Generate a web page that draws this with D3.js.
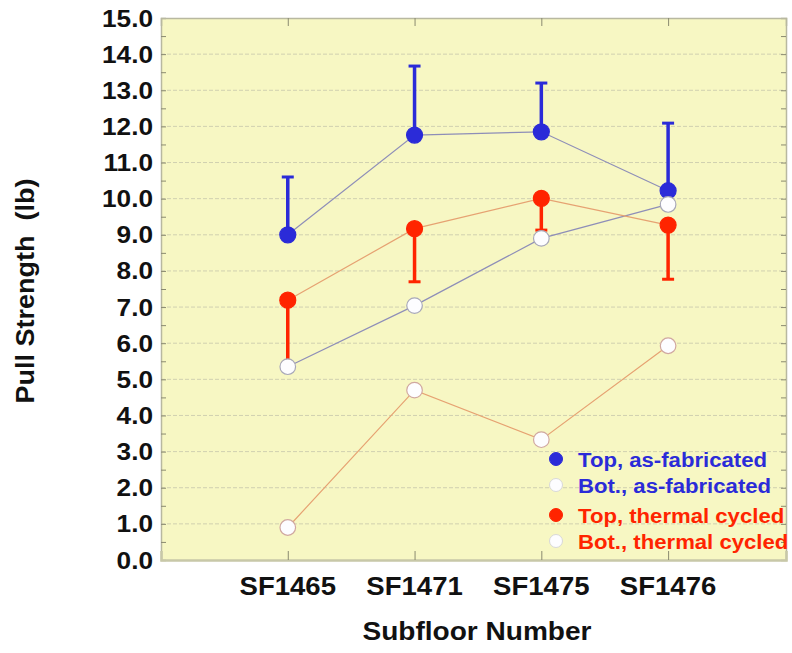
<!DOCTYPE html>
<html>
<head>
<meta charset="utf-8">
<script src="https://cdn.jsdelivr.net/npm/d3@7"></script>
<style>
  html, body { margin: 0; padding: 0; background: #ffffff; }
  svg { display: block; }
  text { font-family: "Liberation Sans", Arial, sans-serif; font-weight: bold; }
</style>
</head>
<body>
<svg id="chart" width="792" height="653"></svg>
<script>
// Subfloor pull-strength results
const categories = ["SF1465", "SF1471", "SF1475", "SF1476"];
const topAsFab = [9.0, 11.76, 11.85, 10.22];
const topAsFabErrHigh = [10.6, 13.67, 13.2, 12.09];
const botAsFab = [5.35, 7.04, 8.9, 9.84];
const topThermal = [7.19, 9.17, 10.01, 9.27];
const topThermalErrLow = [5.45, 7.7, 9.13, 7.77];
const botThermal = [0.9, 4.7, 3.33, 5.93];
const yTicks = [0, 1, 2, 3, 4, 5, 6, 7, 8, 9, 10, 11, 12, 13, 14, 15];
const legendLabels = ["Top, as-fabricated", "Bot., as-fabricated", "Top, thermal cycled", "Bot., thermal cycled"];

const BLUE = "#2b2bd8";
const RED = "#ff2400";
const BLUE_LINE = "#8e8eb8";
const RED_LINE = "#e6a272";

const svg = d3.select("#chart");
const plot = { left: 161, right: 786, top: 18, bottom: 560 };

const y = d3.scaleLinear().domain([0, 15]).range([plot.bottom, plot.top]);
// categories sit at 1..4 on a continuous axis running 0..4.93
const x = d3.scaleLinear().domain([0, 4.93]).range([plot.left, plot.right]);
const cx = i => x(i + 1);

// plot background
svg.append("rect")
  .attr("x", plot.left).attr("y", plot.top)
  .attr("width", plot.right - plot.left).attr("height", plot.bottom - plot.top)
  .attr("fill", "#f7f7c3");

// horizontal grid lines
svg.append("g").selectAll("line").data(yTicks.slice(1, -1)).join("line")
  .attr("x1", plot.left).attr("x2", plot.right)
  .attr("y1", d => y(d)).attr("y2", d => y(d))
  .attr("stroke", "#d0d0b0").attr("stroke-width", 1)
  .attr("stroke-dasharray", "4,2");

// left and right axes with inward ticks
const halfTicks = d3.range(0, 15.01, 0.5);
const leftAxis = d3.axisRight(y).tickValues(halfTicks).tickSize(5).tickFormat("");
const rightAxis = d3.axisLeft(y).tickValues(halfTicks).tickSize(5).tickFormat("");
const gl = svg.append("g").attr("transform", `translate(${plot.left},0)`).call(leftAxis);
const gr = svg.append("g").attr("transform", `translate(${plot.right},0)`).call(rightAxis);
// top and bottom axes with inward ticks at the categories
const catTicks = categories.map((c, i) => i + 1);
const topAxis = d3.axisBottom(x).tickValues(catTicks).tickSize(8).tickFormat("");
const bottomAxis = d3.axisTop(x).tickValues(catTicks).tickSize(9).tickFormat("");
const gt = svg.append("g").attr("transform", `translate(0,${plot.top})`).call(topAxis);
const gb = svg.append("g").attr("transform", `translate(0,${plot.bottom})`).call(bottomAxis);
[gl, gr, gt, gb].forEach(g => {
  g.select(".domain").attr("stroke", "#b8b8a0").attr("stroke-width", 1.5);
  g.selectAll(".tick line").attr("stroke", "#8a8a70").attr("stroke-width", 1);
});
gb.select(".domain").attr("stroke", "#c8c8a8").attr("stroke-width", 2.5);

// y tick labels
svg.append("g").selectAll("text").data(yTicks).join("text")
  .attr("transform", d => `translate(153,${y(d) + 8.5}) scale(1.14,1)`)
  .attr("text-anchor", "end")
  .attr("font-size", 23)
  .attr("fill", "#111")
  .text(d => d.toFixed(1));

// x tick labels
svg.append("g").selectAll("text").data(categories).join("text")
  .attr("transform", (d, i) => `translate(${cx(i)},595) scale(1.06,1)`)
  .attr("text-anchor", "middle")
  .attr("font-size", 26)
  .attr("fill", "#111")
  .text(d => d);

// axis titles
svg.append("text")
  .attr("transform", "translate(477,640) scale(1.1,1)")
  .attr("text-anchor", "middle")
  .attr("font-size", 25.5)
  .attr("fill", "#111")
  .text("Subfloor Number");
svg.append("text")
  .attr("transform", "translate(34,291) rotate(-90) scale(1.06,1)")
  .attr("text-anchor", "middle")
  .attr("font-size", 25.5)
  .attr("fill", "#111")
  .attr("xml:space", "preserve")
  .text("Pull Strength  (lb)");

// connecting lines
const line = d3.line().x((d, i) => cx(i)).y(d => y(d));
const seriesLines = [
  { values: topAsFab, color: BLUE_LINE },
  { values: botAsFab, color: BLUE_LINE },
  { values: topThermal, color: RED_LINE },
  { values: botThermal, color: RED_LINE }
];
svg.append("g").selectAll("path").data(seriesLines).join("path")
  .attr("d", d => line(d.values))
  .attr("fill", "none")
  .attr("stroke", d => d.color)
  .attr("stroke-width", 1.2);

// one-sided error bars
function errorBars(values, ends, color) {
  const g = svg.append("g");
  g.selectAll("line.stem").data(values).join("line")
    .attr("class", "stem")
    .attr("x1", (d, i) => cx(i)).attr("x2", (d, i) => cx(i))
    .attr("y1", d => y(d)).attr("y2", (d, i) => y(ends[i]))
    .attr("stroke", color).attr("stroke-width", 3.5);
  g.selectAll("line.cap").data(ends).join("line")
    .attr("class", "cap")
    .attr("x1", (d, i) => cx(i) - 6).attr("x2", (d, i) => cx(i) + 6)
    .attr("y1", d => y(d)).attr("y2", d => y(d))
    .attr("stroke", color).attr("stroke-width", 3);
}
errorBars(topAsFab, topAsFabErrHigh, BLUE);
errorBars(topThermal, topThermalErrLow, RED);

// markers
function markers(values, fill, stroke, r) {
  svg.append("g").selectAll("circle").data(values).join("circle")
    .attr("cx", (d, i) => cx(i)).attr("cy", d => y(d))
    .attr("r", r)
    .attr("fill", fill)
    .attr("stroke", stroke)
    .attr("stroke-width", 1.2);
}
markers(topAsFab, BLUE, BLUE, 8);
markers(topThermal, RED, RED, 8);
markers(botAsFab, "#fdfdff", "#a8a8b8", 7.8);
markers(botThermal, "#fdfdff", "#d0a8a0", 7.8);

// legend
const legendItems = [
  { label: legendLabels[0], fill: BLUE, stroke: BLUE, color: BLUE, y: 459 },
  { label: legendLabels[1], fill: "#fdfdff", stroke: "#d8d8d8", color: BLUE, y: 485 },
  { label: legendLabels[2], fill: RED, stroke: RED, color: RED, y: 515 },
  { label: legendLabels[3], fill: "#fdfdff", stroke: "#d8d8d8", color: RED, y: 541 }
];
const lg = svg.append("g");
lg.selectAll("circle").data(legendItems).join("circle")
  .attr("cx", 556).attr("cy", d => d.y)
  .attr("r", 6.5)
  .attr("fill", d => d.fill)
  .attr("stroke", d => d.stroke);
lg.selectAll("text").data(legendItems).join("text")
  .attr("transform", d => `translate(578,${d.y + 7.5}) scale(1.08,1)`)
  .attr("font-size", 20.5)
  .attr("fill", d => d.color)
  .text(d => d.label);
</script>
</body>
</html>
